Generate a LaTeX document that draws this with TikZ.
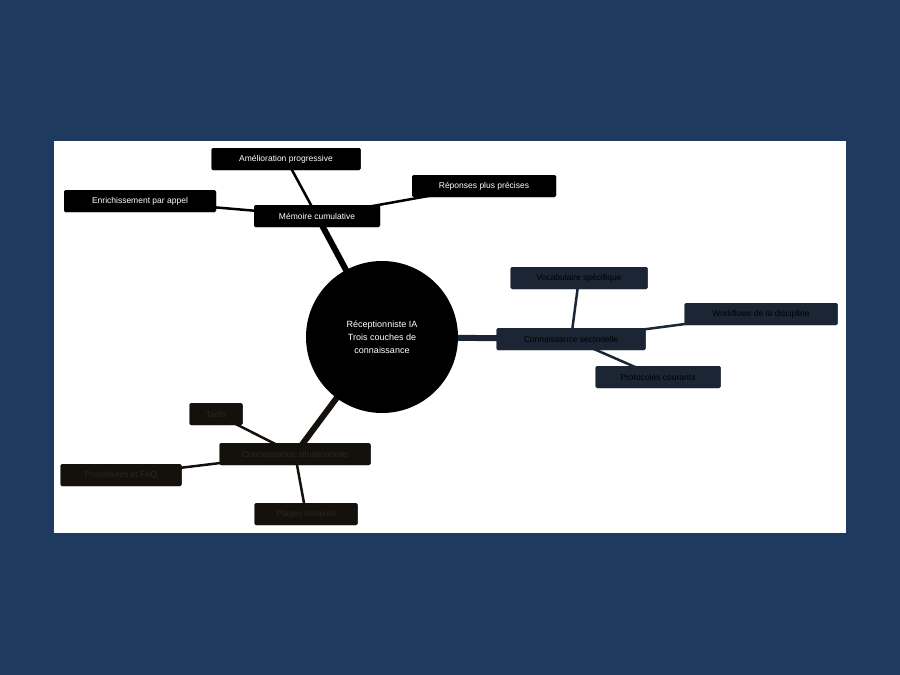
\documentclass[tikz,border=0pt]{standalone}
\usepackage{fontspec}
\setmainfont{Liberation Sans}
\begin{document}
\begin{tikzpicture}[x=1pt,y=-1pt,
 box/.style={rounded corners=1.5pt,minimum height=22pt,inner xsep=6pt,font=\fontsize{8.5}{10}\selectfont},
 bA/.style={box,fill=black,text=white},
 bB/.style={box,fill=navyb,text=black},
 bC/.style={box,fill=brownb,text=brownt},
 thick/.style={line width=6pt},
 thin/.style={line width=2.5pt}]
\definecolor{bg}{HTML}{1F3A5F}
\colorlet{navyb}{bg!40!black}
\definecolor{navyb}{HTML}{1C2533}
\definecolor{brownb}{HTML}{14110D}
\definecolor{brownt}{HTML}{2A2520}
\definecolor{ln}{HTML}{1C2533}
\useasboundingbox (0,0) rectangle (900,675);
\fill[bg] (0,0) rectangle (900,675);
\fill[white] (54,141) rectangle (846,533);
% nodes
\node[bA,minimum width=126pt] (m) at (317,216) {Mémoire cumulative};
\node[bA,minimum width=149pt] (m1) at (286,159) {Amélioration progressive};
\node[bA,minimum width=152pt] (m2) at (140,201) {Enrichissement par appel};
\node[bA,minimum width=144pt] (m3) at (484,186) {Réponses plus précises};
\node[bB,minimum width=149pt] (s) at (571,339) {Connaissance sectorielle};
\node[bB,minimum width=137pt] (s1) at (579,278) {Vocabulaire spécifique};
\node[bB,minimum width=153pt] (s2) at (761,314) {Workflows de la discipline};
\node[bB,minimum width=125pt] (s3) at (658,377) {Protocoles courants};
\node[bC,minimum width=151pt] (c) at (295,454) {Connaissance situationnelle};
\node[bC,minimum width=53pt] (c1) at (216,414) {Tarifs};
\node[bC,minimum width=121pt] (c2) at (121,475) {Procédures et FAQ};
\node[bC,minimum width=103pt] (c3) at (306,514) {Plages horaires};
% edges
\begin{scope}[on background layer/.style={}]
\end{scope}
\draw[thin,black] (m.center) -- (m1.center);
\draw[thin,black] (m.center) -- (m2.center);
\draw[thin,black] (m.center) -- (m3.center);
\draw[thin,ln] (s.center) -- (s1.center);
\draw[thin,ln] (s.center) -- (s2.center);
\draw[thin,ln] (s.center) -- (s3.center);
\draw[thin,brownb] (c.center) -- (c1.center);
\draw[thin,brownb] (c.center) -- (c2.center);
\draw[thin,brownb] (c.center) -- (c3.center);
\draw[thick,black] (382,337) -- (m.center);
\draw[thick,ln] (382,337) -- (s.center);
\draw[thick,brownb] (382,337) -- (c.center);
% redraw nodes on top
\foreach \n/\s/\w/\x/\y/\t in {m/bA/126/317/216/{Mémoire cumulative},m1/bA/149/286/159/{Amélioration progressive},m2/bA/152/140/201/{Enrichissement par appel},m3/bA/144/484/186/{Réponses plus précises},s/bB/149/571/339/{Connaissance sectorielle},s1/bB/137/579/278/{Vocabulaire spécifique},s2/bB/153/761/314/{Workflows de la discipline},s3/bB/125/658/377/{Protocoles courants},c/bC/151/295/454/{Connaissance situationnelle},c1/bC/53/216/414/{Tarifs},c2/bC/121/121/475/{Procédures et FAQ},c3/bC/103/306/514/{Plages horaires}}
  \node[\s,minimum width=\w pt] (\n-top) at (\x,\y) {\t};
\node[circle,fill=black,minimum size=152pt,text=white,align=center,font=\fontsize{9}{13}\selectfont] (ctr) at (382,337) {Réceptionniste IA\\Trois couches de\\connaissance};
\end{tikzpicture}
\end{document}
